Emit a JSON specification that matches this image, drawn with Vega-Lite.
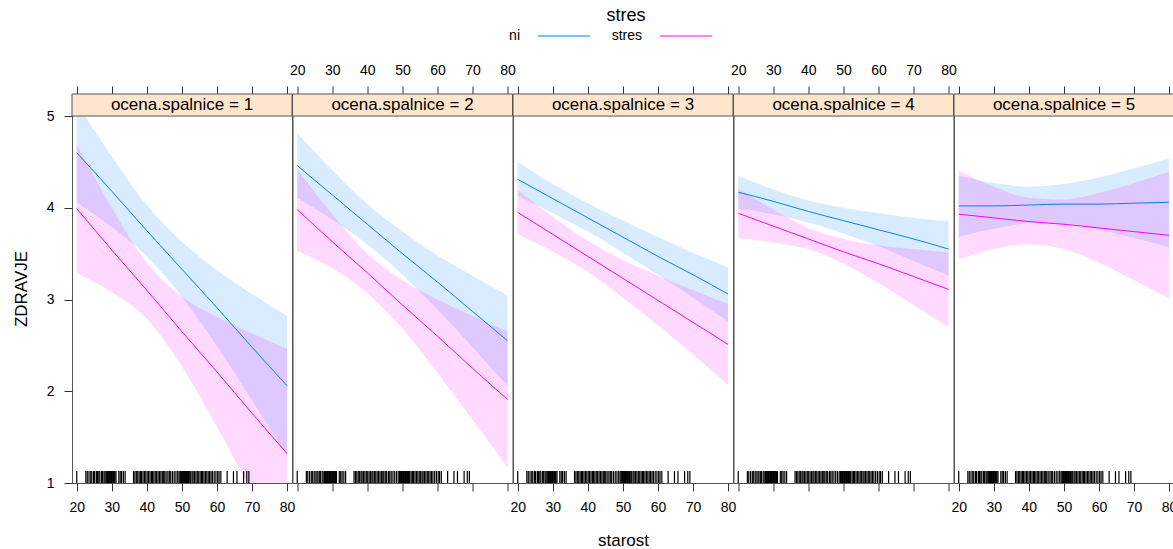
{
 "$schema": "https://vega.github.io/schema/vega-lite/v6.json",
 "padding": {"left": 11, "top": 7, "right": 0, "bottom": 0},
 "background": "white",
 "datasets": {
  "curves": [
   {"s":1,"stres":"ni","starost":20,"fit":4.60,"lo":4.06,"hi":5.14},
   {"s":1,"stres":"ni","starost":30,"fit":4.18,"lo":3.79,"hi":4.56},
   {"s":1,"stres":"ni","starost":40,"fit":3.75,"lo":3.47,"hi":4.03},
   {"s":1,"stres":"ni","starost":50,"fit":3.33,"lo":3.03,"hi":3.63},
   {"s":1,"stres":"ni","starost":60,"fit":2.91,"lo":2.49,"hi":3.32},
   {"s":1,"stres":"ni","starost":70,"fit":2.48,"lo":1.90,"hi":3.06},
   {"s":1,"stres":"ni","starost":80,"fit":2.06,"lo":1.30,"hi":2.82},
   {"s":1,"stres":"stres","starost":20,"fit":3.99,"lo":3.29,"hi":4.69},
   {"s":1,"stres":"stres","starost":30,"fit":3.54,"lo":3.08,"hi":4.00},
   {"s":1,"stres":"stres","starost":40,"fit":3.10,"lo":2.79,"hi":3.40},
   {"s":1,"stres":"stres","starost":50,"fit":2.65,"lo":2.27,"hi":3.03},
   {"s":1,"stres":"stres","starost":60,"fit":2.21,"lo":1.61,"hi":2.81},
   {"s":1,"stres":"stres","starost":70,"fit":1.76,"lo":0.90,"hi":2.63},
   {"s":1,"stres":"stres","starost":80,"fit":1.32,"lo":0.18,"hi":2.46},
   {"s":2,"stres":"ni","starost":20,"fit":4.46,"lo":4.11,"hi":4.81},
   {"s":2,"stres":"ni","starost":30,"fit":4.14,"lo":3.87,"hi":4.41},
   {"s":2,"stres":"ni","starost":40,"fit":3.82,"lo":3.60,"hi":4.04},
   {"s":2,"stres":"ni","starost":50,"fit":3.50,"lo":3.27,"hi":3.74},
   {"s":2,"stres":"ni","starost":60,"fit":3.19,"lo":2.89,"hi":3.48},
   {"s":2,"stres":"ni","starost":70,"fit":2.87,"lo":2.48,"hi":3.26},
   {"s":2,"stres":"ni","starost":80,"fit":2.55,"lo":2.06,"hi":3.04},
   {"s":2,"stres":"stres","starost":20,"fit":3.98,"lo":3.53,"hi":4.42},
   {"s":2,"stres":"stres","starost":30,"fit":3.63,"lo":3.34,"hi":3.93},
   {"s":2,"stres":"stres","starost":40,"fit":3.29,"lo":3.07,"hi":3.50},
   {"s":2,"stres":"stres","starost":50,"fit":2.94,"lo":2.68,"hi":3.21},
   {"s":2,"stres":"stres","starost":60,"fit":2.60,"lo":2.20,"hi":3.00},
   {"s":2,"stres":"stres","starost":70,"fit":2.25,"lo":1.69,"hi":2.82},
   {"s":2,"stres":"stres","starost":80,"fit":1.91,"lo":1.17,"hi":2.65},
   {"s":3,"stres":"ni","starost":20,"fit":4.31,"lo":4.13,"hi":4.50},
   {"s":3,"stres":"ni","starost":30,"fit":4.10,"lo":3.94,"hi":4.26},
   {"s":3,"stres":"ni","starost":40,"fit":3.89,"lo":3.74,"hi":4.05},
   {"s":3,"stres":"ni","starost":50,"fit":3.68,"lo":3.51,"hi":3.86},
   {"s":3,"stres":"ni","starost":60,"fit":3.47,"lo":3.27,"hi":3.68},
   {"s":3,"stres":"ni","starost":70,"fit":3.27,"lo":3.02,"hi":3.51},
   {"s":3,"stres":"ni","starost":80,"fit":3.06,"lo":2.76,"hi":3.35},
   {"s":3,"stres":"stres","starost":20,"fit":3.95,"lo":3.71,"hi":4.19},
   {"s":3,"stres":"stres","starost":30,"fit":3.71,"lo":3.52,"hi":3.90},
   {"s":3,"stres":"stres","starost":40,"fit":3.47,"lo":3.30,"hi":3.64},
   {"s":3,"stres":"stres","starost":50,"fit":3.23,"lo":3.02,"hi":3.43},
   {"s":3,"stres":"stres","starost":60,"fit":2.99,"lo":2.72,"hi":3.26},
   {"s":3,"stres":"stres","starost":70,"fit":2.75,"lo":2.40,"hi":3.10},
   {"s":3,"stres":"stres","starost":80,"fit":2.51,"lo":2.07,"hi":2.95},
   {"s":4,"stres":"ni","starost":20,"fit":4.17,"lo":3.99,"hi":4.35},
   {"s":4,"stres":"ni","starost":30,"fit":4.07,"lo":3.93,"hi":4.20},
   {"s":4,"stres":"ni","starost":40,"fit":3.96,"lo":3.84,"hi":4.08},
   {"s":4,"stres":"ni","starost":50,"fit":3.86,"lo":3.72,"hi":4.00},
   {"s":4,"stres":"ni","starost":60,"fit":3.76,"lo":3.58,"hi":3.94},
   {"s":4,"stres":"ni","starost":70,"fit":3.66,"lo":3.42,"hi":3.89},
   {"s":4,"stres":"ni","starost":80,"fit":3.55,"lo":3.26,"hi":3.85},
   {"s":4,"stres":"stres","starost":20,"fit":3.94,"lo":3.67,"hi":4.21},
   {"s":4,"stres":"stres","starost":30,"fit":3.80,"lo":3.62,"hi":3.98},
   {"s":4,"stres":"stres","starost":40,"fit":3.66,"lo":3.55,"hi":3.78},
   {"s":4,"stres":"stres","starost":50,"fit":3.52,"lo":3.39,"hi":3.66},
   {"s":4,"stres":"stres","starost":60,"fit":3.39,"lo":3.18,"hi":3.59},
   {"s":4,"stres":"stres","starost":70,"fit":3.25,"lo":2.94,"hi":3.55},
   {"s":4,"stres":"stres","starost":80,"fit":3.11,"lo":2.70,"hi":3.51},
   {"s":5,"stres":"ni","starost":20,"fit":4.02,"lo":3.68,"hi":4.35},
   {"s":5,"stres":"ni","starost":30,"fit":4.02,"lo":3.77,"hi":4.27},
   {"s":5,"stres":"ni","starost":40,"fit":4.03,"lo":3.83,"hi":4.23},
   {"s":5,"stres":"ni","starost":50,"fit":4.04,"lo":3.82,"hi":4.26},
   {"s":5,"stres":"ni","starost":60,"fit":4.04,"lo":3.76,"hi":4.33},
   {"s":5,"stres":"ni","starost":70,"fit":4.05,"lo":3.67,"hi":4.43},
   {"s":5,"stres":"ni","starost":80,"fit":4.06,"lo":3.57,"hi":4.54},
   {"s":5,"stres":"stres","starost":20,"fit":3.93,"lo":3.44,"hi":4.41},
   {"s":5,"stres":"stres","starost":30,"fit":3.89,"lo":3.55,"hi":4.23},
   {"s":5,"stres":"stres","starost":40,"fit":3.85,"lo":3.60,"hi":4.11},
   {"s":5,"stres":"stres","starost":50,"fit":3.82,"lo":3.55,"hi":4.09},
   {"s":5,"stres":"stres","starost":60,"fit":3.78,"lo":3.40,"hi":4.16},
   {"s":5,"stres":"stres","starost":70,"fit":3.74,"lo":3.21,"hi":4.27},
   {"s":5,"stres":"stres","starost":80,"fit":3.70,"lo":3.01,"hi":4.39}
  ],
  "rug": [
   {"starost":20},{"starost":22.6},{"starost":23.0},{"starost":23.5},{"starost":24.0},{"starost":24.3},{"starost":24.8},{"starost":25.1},{"starost":25.6},{"starost":25.9},{"starost":26.3},{"starost":26.6},{"starost":27.1},{"starost":27.4},{"starost":27.8},{"starost":28.1},{"starost":28.4},{"starost":28.6},{"starost":28.8},{"starost":29.0},{"starost":29.2},{"starost":29.3},{"starost":29.5},{"starost":29.7},{"starost":29.9},{"starost":30.1},{"starost":30.3},{"starost":30.5},{"starost":30.7},{"starost":30.9},{"starost":31.2},{"starost":32.0},{"starost":32.4},{"starost":32.8},{"starost":33.3},{"starost":33.8},{"starost":36.2},{"starost":36.6},{"starost":37.0},{"starost":37.4},{"starost":37.8},{"starost":38.2},{"starost":38.5},{"starost":38.9},{"starost":39.3},{"starost":39.7},{"starost":40.1},{"starost":40.5},{"starost":40.9},{"starost":41.3},{"starost":41.6},{"starost":42.0},{"starost":42.4},{"starost":42.8},{"starost":43.2},{"starost":43.6},{"starost":44.0},{"starost":44.4},{"starost":44.7},{"starost":45.1},{"starost":45.5},{"starost":46.0},{"starost":46.4},{"starost":46.8},{"starost":47.3},{"starost":47.8},{"starost":48.3},{"starost":48.8},{"starost":49.2},{"starost":49.5},{"starost":49.7},{"starost":49.9},{"starost":50.1},{"starost":50.3},{"starost":50.5},{"starost":50.7},{"starost":50.9},{"starost":51.1},{"starost":51.3},{"starost":51.5},{"starost":51.7},{"starost":51.9},{"starost":52.1},{"starost":52.5},{"starost":52.9},{"starost":53.2},{"starost":53.6},{"starost":54.0},{"starost":54.4},{"starost":54.8},{"starost":55.2},{"starost":55.6},{"starost":55.9},{"starost":56.3},{"starost":56.7},{"starost":57.1},{"starost":57.5},{"starost":57.9},{"starost":58.3},{"starost":58.7},{"starost":59.2},{"starost":59.7},{"starost":60.2},{"starost":60.6},{"starost":61.1},{"starost":62.9},{"starost":64.7},{"starost":65.7},{"starost":67.6},{"starost":68.5},{"starost":69.1}
  ],
  "strips": [
   {"s":1,"label":"ocena.spalnice = 1"},
   {"s":2,"label":"ocena.spalnice = 2"},
   {"s":3,"label":"ocena.spalnice = 3"},
   {"s":4,"label":"ocena.spalnice = 4"},
   {"s":5,"label":"ocena.spalnice = 5"}
  ]
 },
 "spacing": -7.5,
 "bounds": "full",
 "align": "none",
 "hconcat": [
  {
   "width": 220, "height": 389,
   "resolve": {"axis": {"y": "independent"}},
   "layer": [
    {"data": {"name": "curves"}, "transform": [{"filter": "datum.s == 1 && datum.stres == 'ni'"}],
     "mark": {"type": "area", "clip": true, "fill": "#0080ff", "fillOpacity": 0.15, "interpolate": "monotone"},
     "encoding": {
      "x": {"field": "starost", "type": "quantitative", "scale": {"domain": [18.65, 81.4], "nice": false, "zero": false}, "axis": {"orient": "bottom", "values": [20,30,40,50,60,70,80], "labels": true, "title": null, "labelPadding": 9}},
      "y": {"field": "lo", "type": "quantitative", "scale": {"domain": [1, 5.24], "nice": false, "zero": false}, "axis": null},
      "y2": {"field": "hi"}
     }},
    {"data": {"name": "curves"}, "transform": [{"filter": "datum.s == 1 && datum.stres == 'stres'"}],
     "mark": {"type": "area", "clip": true, "fill": "#ff00ff", "fillOpacity": 0.15, "interpolate": "monotone"},
     "encoding": {
      "x": {"field": "starost", "type": "quantitative", "axis": null},
      "y": {"field": "lo", "type": "quantitative", "axis": null},
      "y2": {"field": "hi"}
     }},
    {"data": {"name": "curves"}, "transform": [{"filter": "datum.s == 1"}],
     "mark": {"type": "line", "clip": true, "strokeWidth": 1, "interpolate": "monotone"},
     "encoding": {
      "x": {"field": "starost", "type": "quantitative", "axis": {"orient": "top", "values": [20,30,40,50,60,70,80], "labels": false, "title": null}},
      "y": {"field": "fit", "type": "quantitative", "axis": {"orient": "left", "values": [1,2,3,4,5], "title": "ZDRAVJE", "labelPadding": 10, "titlePadding": 16}},
      "stroke": {"field": "stres", "type": "nominal", "scale": {"domain": ["ni", "stres"], "range": ["#0080ff", "#ff00ff"]}, "title": "stres"}
     }},
    {"data": {"name": "rug"}, "mark": {"type": "rule", "color": "#000", "strokeWidth": 1.2},
     "encoding": {"x": {"field": "starost", "type": "quantitative", "axis": null}, "y": {"datum": 1, "axis": null}, "y2": {"datum": 1.13}}},
    {"data": {"name": "strips"}, "transform": [{"filter": "datum.s == 1"}],
     "mark": {"type": "rect", "fill": "#ffe5cc", "stroke": "#555", "strokeWidth": 1},
     "encoding": {"x": {"datum": 18.65, "axis": null}, "x2": {"datum": 81.4}, "y": {"datum": 5, "axis": null}, "y2": {"datum": 5.24}}},
    {"data": {"name": "strips"}, "transform": [{"filter": "datum.s == 1"}],
     "mark": {"type": "text", "fontSize": 17, "font": "Liberation Sans", "color": "#000", "align": "center", "baseline": "middle"},
     "encoding": {"x": {"datum": 50.03, "axis": null}, "y": {"datum": 5.12, "axis": null}, "text": {"field": "label"}}}
   ]
  },
  {
   "width": 220, "height": 389,
   "layer": [
    {"data": {"name": "curves"}, "transform": [{"filter": "datum.s == 2 && datum.stres == 'ni'"}],
     "mark": {"type": "area", "clip": true, "fill": "#0080ff", "fillOpacity": 0.15, "interpolate": "monotone"},
     "encoding": {
      "x": {"field": "starost", "type": "quantitative", "scale": {"domain": [18.65, 81.4], "nice": false, "zero": false}, "axis": {"orient": "bottom", "values": [20,30,40,50,60,70,80], "labels": false, "title": null}},
      "y": {"field": "lo", "type": "quantitative", "scale": {"domain": [1, 5.24], "nice": false, "zero": false}, "axis": null},
      "y2": {"field": "hi"}
     }},
    {"data": {"name": "curves"}, "transform": [{"filter": "datum.s == 2 && datum.stres == 'stres'"}],
     "mark": {"type": "area", "clip": true, "fill": "#ff00ff", "fillOpacity": 0.15, "interpolate": "monotone"},
     "encoding": {
      "x": {"field": "starost", "type": "quantitative", "axis": null},
      "y": {"field": "lo", "type": "quantitative", "axis": null},
      "y2": {"field": "hi"}
     }},
    {"data": {"name": "curves"}, "transform": [{"filter": "datum.s == 2"}],
     "mark": {"type": "line", "clip": true, "strokeWidth": 1, "interpolate": "monotone"},
     "encoding": {
      "x": {"field": "starost", "type": "quantitative", "axis": {"orient": "top", "values": [20,30,40,50,60,70,80], "labels": true, "title": null, "labelPadding": 9}},
      "y": {"field": "fit", "type": "quantitative", "axis": null},
      "stroke": {"field": "stres", "type": "nominal", "scale": {"domain": ["ni", "stres"], "range": ["#0080ff", "#ff00ff"]}, "title": "stres"}
     }},
    {"data": {"name": "rug"}, "mark": {"type": "rule", "color": "#000", "strokeWidth": 1.2},
     "encoding": {"x": {"field": "starost", "type": "quantitative", "axis": null}, "y": {"datum": 1, "axis": null}, "y2": {"datum": 1.13}}},
    {"data": {"name": "strips"}, "transform": [{"filter": "datum.s == 2"}],
     "mark": {"type": "rect", "fill": "#ffe5cc", "stroke": "#555", "strokeWidth": 1},
     "encoding": {"x": {"datum": 18.65, "axis": null}, "x2": {"datum": 81.4}, "y": {"datum": 5, "axis": null}, "y2": {"datum": 5.24}}},
    {"data": {"name": "strips"}, "transform": [{"filter": "datum.s == 2"}],
     "mark": {"type": "text", "fontSize": 17, "font": "Liberation Sans", "color": "#000", "align": "center", "baseline": "middle"},
     "encoding": {"x": {"datum": 50.03, "axis": null}, "y": {"datum": 5.12, "axis": null}, "text": {"field": "label"}}}
   ]
  },
  {
   "width": 220, "height": 389,
   "layer": [
    {"data": {"name": "curves"}, "transform": [{"filter": "datum.s == 3 && datum.stres == 'ni'"}],
     "mark": {"type": "area", "clip": true, "fill": "#0080ff", "fillOpacity": 0.15, "interpolate": "monotone"},
     "encoding": {
      "x": {"field": "starost", "type": "quantitative", "scale": {"domain": [18.65, 81.4], "nice": false, "zero": false}, "axis": {"orient": "bottom", "values": [20,30,40,50,60,70,80], "labels": true, "title": "starost", "labelPadding": 9, "titlePadding": 18}},
      "y": {"field": "lo", "type": "quantitative", "scale": {"domain": [1, 5.24], "nice": false, "zero": false}, "axis": null},
      "y2": {"field": "hi"}
     }},
    {"data": {"name": "curves"}, "transform": [{"filter": "datum.s == 3 && datum.stres == 'stres'"}],
     "mark": {"type": "area", "clip": true, "fill": "#ff00ff", "fillOpacity": 0.15, "interpolate": "monotone"},
     "encoding": {
      "x": {"field": "starost", "type": "quantitative", "axis": null},
      "y": {"field": "lo", "type": "quantitative", "axis": null},
      "y2": {"field": "hi"}
     }},
    {"data": {"name": "curves"}, "transform": [{"filter": "datum.s == 3"}],
     "mark": {"type": "line", "clip": true, "strokeWidth": 1, "interpolate": "monotone"},
     "encoding": {
      "x": {"field": "starost", "type": "quantitative", "axis": {"orient": "top", "values": [20,30,40,50,60,70,80], "labels": false, "title": null}},
      "y": {"field": "fit", "type": "quantitative", "axis": null},
      "stroke": {"field": "stres", "type": "nominal", "scale": {"domain": ["ni", "stres"], "range": ["#0080ff", "#ff00ff"]}, "title": "stres"}
     }},
    {"data": {"name": "rug"}, "mark": {"type": "rule", "color": "#000", "strokeWidth": 1.2},
     "encoding": {"x": {"field": "starost", "type": "quantitative", "axis": null}, "y": {"datum": 1, "axis": null}, "y2": {"datum": 1.13}}},
    {"data": {"name": "strips"}, "transform": [{"filter": "datum.s == 3"}],
     "mark": {"type": "rect", "fill": "#ffe5cc", "stroke": "#555", "strokeWidth": 1},
     "encoding": {"x": {"datum": 18.65, "axis": null}, "x2": {"datum": 81.4}, "y": {"datum": 5, "axis": null}, "y2": {"datum": 5.24}}},
    {"data": {"name": "strips"}, "transform": [{"filter": "datum.s == 3"}],
     "mark": {"type": "text", "fontSize": 17, "font": "Liberation Sans", "color": "#000", "align": "center", "baseline": "middle"},
     "encoding": {"x": {"datum": 50.03, "axis": null}, "y": {"datum": 5.12, "axis": null}, "text": {"field": "label"}}}
   ]
  },
  {
   "width": 220, "height": 389,
   "layer": [
    {"data": {"name": "curves"}, "transform": [{"filter": "datum.s == 4 && datum.stres == 'ni'"}],
     "mark": {"type": "area", "clip": true, "fill": "#0080ff", "fillOpacity": 0.15, "interpolate": "monotone"},
     "encoding": {
      "x": {"field": "starost", "type": "quantitative", "scale": {"domain": [18.65, 81.4], "nice": false, "zero": false}, "axis": {"orient": "bottom", "values": [20,30,40,50,60,70,80], "labels": false, "title": null}},
      "y": {"field": "lo", "type": "quantitative", "scale": {"domain": [1, 5.24], "nice": false, "zero": false}, "axis": null},
      "y2": {"field": "hi"}
     }},
    {"data": {"name": "curves"}, "transform": [{"filter": "datum.s == 4 && datum.stres == 'stres'"}],
     "mark": {"type": "area", "clip": true, "fill": "#ff00ff", "fillOpacity": 0.15, "interpolate": "monotone"},
     "encoding": {
      "x": {"field": "starost", "type": "quantitative", "axis": null},
      "y": {"field": "lo", "type": "quantitative", "axis": null},
      "y2": {"field": "hi"}
     }},
    {"data": {"name": "curves"}, "transform": [{"filter": "datum.s == 4"}],
     "mark": {"type": "line", "clip": true, "strokeWidth": 1, "interpolate": "monotone"},
     "encoding": {
      "x": {"field": "starost", "type": "quantitative", "axis": {"orient": "top", "values": [20,30,40,50,60,70,80], "labels": true, "title": null, "labelPadding": 9}},
      "y": {"field": "fit", "type": "quantitative", "axis": null},
      "stroke": {"field": "stres", "type": "nominal", "scale": {"domain": ["ni", "stres"], "range": ["#0080ff", "#ff00ff"]}, "title": "stres"}
     }},
    {"data": {"name": "rug"}, "mark": {"type": "rule", "color": "#000", "strokeWidth": 1.2},
     "encoding": {"x": {"field": "starost", "type": "quantitative", "axis": null}, "y": {"datum": 1, "axis": null}, "y2": {"datum": 1.13}}},
    {"data": {"name": "strips"}, "transform": [{"filter": "datum.s == 4"}],
     "mark": {"type": "rect", "fill": "#ffe5cc", "stroke": "#555", "strokeWidth": 1},
     "encoding": {"x": {"datum": 18.65, "axis": null}, "x2": {"datum": 81.4}, "y": {"datum": 5, "axis": null}, "y2": {"datum": 5.24}}},
    {"data": {"name": "strips"}, "transform": [{"filter": "datum.s == 4"}],
     "mark": {"type": "text", "fontSize": 17, "font": "Liberation Sans", "color": "#000", "align": "center", "baseline": "middle"},
     "encoding": {"x": {"datum": 50.03, "axis": null}, "y": {"datum": 5.12, "axis": null}, "text": {"field": "label"}}}
   ]
  },
  {
   "width": 220, "height": 389,
   "resolve": {"axis": {"y": "independent"}},
   "layer": [
    {"data": {"name": "curves"}, "transform": [{"filter": "datum.s == 5 && datum.stres == 'ni'"}],
     "mark": {"type": "area", "clip": true, "fill": "#0080ff", "fillOpacity": 0.15, "interpolate": "monotone"},
     "encoding": {
      "x": {"field": "starost", "type": "quantitative", "scale": {"domain": [18.65, 81.4], "nice": false, "zero": false}, "axis": {"orient": "bottom", "values": [20,30,40,50,60,70,80], "labels": true, "title": null, "labelPadding": 9}},
      "y": {"field": "lo", "type": "quantitative", "scale": {"domain": [1, 5.24], "nice": false, "zero": false}, "axis": null},
      "y2": {"field": "hi"}
     }},
    {"data": {"name": "curves"}, "transform": [{"filter": "datum.s == 5 && datum.stres == 'stres'"}],
     "mark": {"type": "area", "clip": true, "fill": "#ff00ff", "fillOpacity": 0.15, "interpolate": "monotone"},
     "encoding": {
      "x": {"field": "starost", "type": "quantitative", "axis": null},
      "y": {"field": "lo", "type": "quantitative", "axis": null},
      "y2": {"field": "hi"}
     }},
    {"data": {"name": "curves"}, "transform": [{"filter": "datum.s == 5"}],
     "mark": {"type": "line", "clip": true, "strokeWidth": 1, "interpolate": "monotone"},
     "encoding": {
      "x": {"field": "starost", "type": "quantitative", "axis": {"orient": "top", "values": [20,30,40,50,60,70,80], "labels": false, "title": null}},
      "y": {"field": "fit", "type": "quantitative", "axis": {"orient": "right", "values": [1,2,3,4,5], "labels": false, "title": null}},
      "stroke": {"field": "stres", "type": "nominal", "scale": {"domain": ["ni", "stres"], "range": ["#0080ff", "#ff00ff"]}, "title": "stres"}
     }},
    {"data": {"name": "rug"}, "mark": {"type": "rule", "color": "#000", "strokeWidth": 1.2},
     "encoding": {"x": {"field": "starost", "type": "quantitative", "axis": null}, "y": {"datum": 1, "axis": null}, "y2": {"datum": 1.13}}},
    {"data": {"name": "strips"}, "transform": [{"filter": "datum.s == 5"}],
     "mark": {"type": "rect", "fill": "#ffe5cc", "stroke": "#555", "strokeWidth": 1},
     "encoding": {"x": {"datum": 18.65, "axis": null}, "x2": {"datum": 81.4}, "y": {"datum": 5, "axis": null}, "y2": {"datum": 5.24}}},
    {"data": {"name": "strips"}, "transform": [{"filter": "datum.s == 5"}],
     "mark": {"type": "text", "fontSize": 17, "font": "Liberation Sans", "color": "#000", "align": "center", "baseline": "middle"},
     "encoding": {"x": {"datum": 50.03, "axis": null}, "y": {"datum": 5.12, "axis": null}, "text": {"field": "label"}}}
   ]
  }
 ],
 "config": {
  "font": "Liberation Sans",
  "view": {"stroke": "#555", "strokeWidth": 1},
  "axis": {"domain": false, "grid": false, "tickColor": "#333", "tickSize": 8, "labelFont": "Liberation Sans", "labelFontSize": 14, "labelColor": "#000", "titleFont": "Liberation Sans", "titleFontSize": 17, "titleFontWeight": "normal", "titleColor": "#000"},
  "legend": {"orient": "none", "legendX": 465, "legendY": -87, "direction": "horizontal", "titleAnchor": "middle", "titleOrient": "top", "titlePadding": -16, "titleFont": "Liberation Sans", "titleFontSize": 18, "titleFontWeight": "normal", "titleColor": "#000", "labelFont": "Liberation Sans", "labelFontSize": 14, "labelColor": "#000", "symbolType": "stroke", "symbolSize": 2704, "symbolStrokeWidth": 1.2, "labelAlign": "right", "labelOffset": -71, "columnPadding": 18}
 }
}
